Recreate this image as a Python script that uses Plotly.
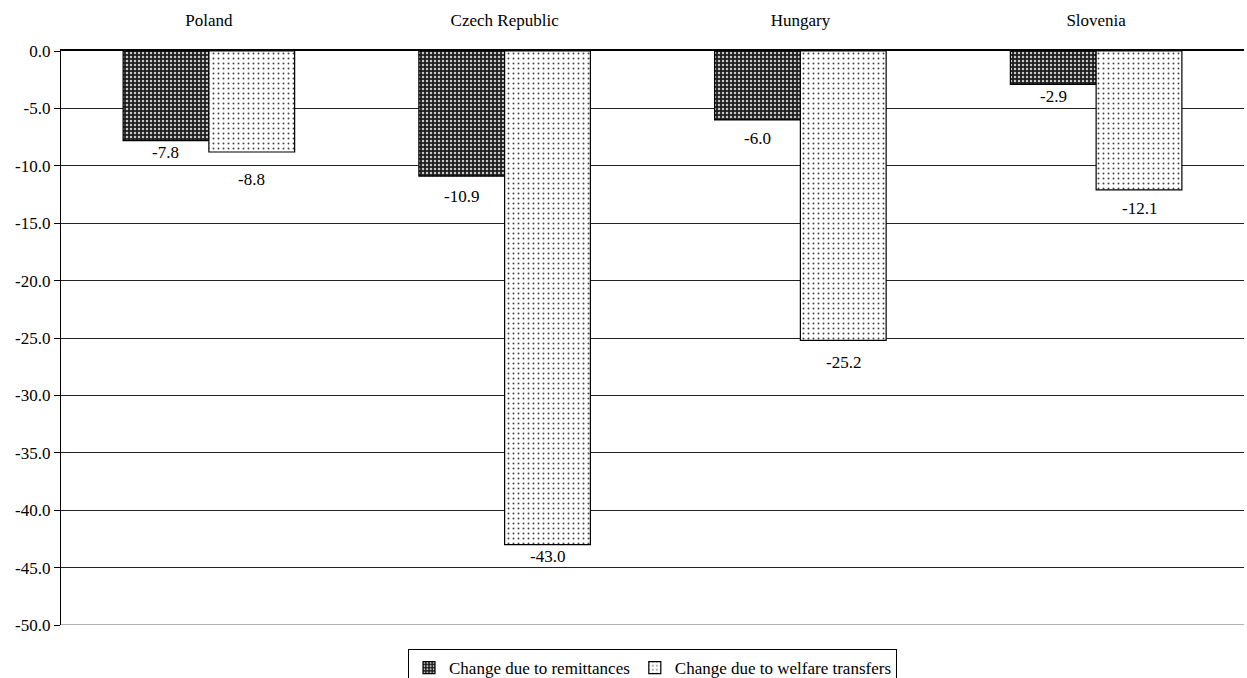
import plotly.graph_objects as go

countries = ["Poland", "Czech Republic", "Hungary", "Slovenia"]
remittances = [-7.8, -10.9, -6.0, -2.9]
welfare = [-8.8, -43.0, -25.2, -12.1]
y_ticks = [0, -5, -10, -15, -20, -25, -30, -35, -40, -45, -50]

# distance (px) of each value label below the end of its bar
remit_label_gap = [12, 20, 19, 12]
welfare_label_gap = [27, 12, 22, 19]

font = dict(family="Liberation Serif", size=17, color="black")

BARGAP = 0.42
MARGIN_L, MARGIN_R = 61, 3
WIDTH = 1247


def fmt(v):
    # plain hyphen-minus, one decimal place
    return f"{v:.1f}"


fig = go.Figure()
fig.add_trace(go.Bar(
    name="Change due to remittances",
    x=countries, y=remittances,
    marker=dict(
        color="#222222",
        line=dict(color="black", width=1.2),
        pattern=dict(shape=".", bgcolor="#1e1e1e", fgcolor="#c8c8c8",
                     size=4, solidity=0.3, fillmode="replace"),
    ),
))
fig.add_trace(go.Bar(
    name="Change due to welfare transfers",
    x=countries, y=welfare,
    marker=dict(
        color="white",
        line=dict(color="black", width=1.2),
        pattern=dict(shape=".", bgcolor="white", fgcolor="#444444",
                     size=5, solidity=0.12, fillmode="replace"),
    ),
))

# value labels, centred under each bar
cat_px = (WIDTH - MARGIN_L - MARGIN_R) / len(countries)
half_bar = cat_px * (1 - BARGAP) / 4
for series, gaps, side in ((remittances, remit_label_gap, -1),
                           (welfare, welfare_label_gap, 1)):
    for c, v, g in zip(countries, series, gaps):
        fig.add_annotation(x=c, y=v, text=fmt(v), showarrow=False,
                           xshift=side * half_bar, yshift=-g,
                           yanchor="middle", font=font)

# light rule along the bottom of the value range
fig.add_shape(type="line", xref="paper", x0=0, x1=1, yref="y", y0=-50, y1=-50,
              line=dict(color="#999999", width=1.5), layer="below")

fig.update_layout(
    width=WIDTH, height=678,
    margin=dict(l=MARGIN_L, r=MARGIN_R, t=51, b=53, autoexpand=False),
    paper_bgcolor="white", plot_bgcolor="white",
    font=font,
    barmode="group", bargap=BARGAP, bargroupgap=0,
    showlegend=True,
    legend=dict(
        orientation="h", x=0.5, xanchor="center", y=-0.042, yanchor="top",
        bordercolor="black", borderwidth=1, font=font,
        itemwidth=30, tracegroupgap=0,
    ),
    xaxis=dict(
        side="top", showline=True, linecolor="black", linewidth=1.5,
        ticks="", showgrid=False, tickfont=font, ticklabelstandoff=16,
    ),
    yaxis=dict(
        range=[-50, 0], tickvals=y_ticks, ticktext=[fmt(v) for v in y_ticks],
        ticks="outside", ticklen=6, tickcolor="black",
        showline=True, linecolor="black", linewidth=1.2,
        showgrid=True, gridcolor="#222222", gridwidth=1,
        zeroline=False, tickfont=font,
    ),
)

fig.write_html("out.html")
